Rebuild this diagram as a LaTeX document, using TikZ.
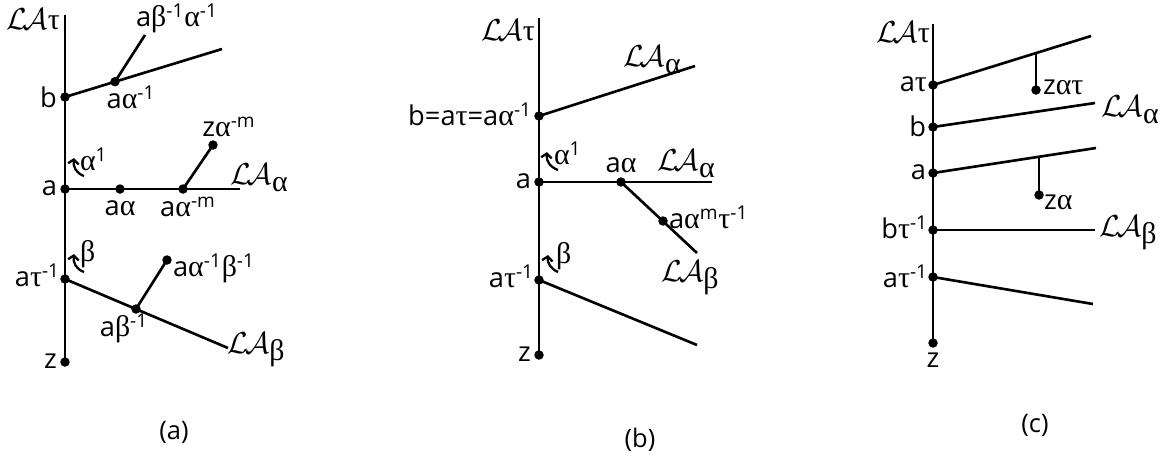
\documentclass[tikz,border=0pt]{standalone}
\usepackage{fontspec}
\setmainfont{Open Sans}
\newfontfamily\grk{Liberation Serif}
\usetikzlibrary{arrows.meta}
\newcommand{\ssp}[1]{\textsuperscript{#1}}
\newcommand{\Ga}{{\grk\fontsize{17}{18}\selectfont α}}
\newcommand{\Gb}{{\grk\fontsize{17}{18}\selectfont β}}
\newcommand{\Gt}{{\grk\fontsize{17}{18}\selectfont τ}}
\newcommand{\LAsub}[1]{$\mathcal{L}\mkern-2mu\mathcal{A}$\raisebox{-0.45ex}{#1}}
\newcommand{\LAtau}{$\mathcal{L}\mkern-2mu\mathcal{A}$\Gt}
\begin{document}
\begin{tikzpicture}[x=0.02cm,y=-0.02cm, line width=1.5pt,
  dot/.style={circle,fill,inner sep=0pt,minimum size=5.4pt},
  lbl/.style={inner sep=1pt,font=\fontsize{15.5}{17}\selectfont},
  la/.style={inner sep=1pt,font=\fontsize{17}{19}\selectfont},
  captionlbl/.style={inner sep=1pt,font=\fontsize{14.5}{16}\selectfont},
  turn/.style={line width=1.3pt,-{Straight Barb[length=2.5pt,width=6pt]}}]
\useasboundingbox (0,0) rectangle (1165,461);

% ---------------- panel (a)
\coordinate (aTop) at (65,15);
\node[dot] (ab) at (65,97) {};
\node[dot] (aa) at (65,189) {};
\node[dot] (at) at (65,279) {};
\node[dot] (az) at (65,362) {};
\draw (aTop) -- (az.center);
\node[la] (aLAt) at (33,19) {\LAtau};
% b line
\coordinate (abE) at (222,49);
\node[dot] (aai) at (115,81.7) {};
\coordinate (abai) at (145,35);
\draw (ab.center) -- (abE);
\draw (aai.center) -- (abai);
\node[lbl,anchor=east] (lb) at (60,97) {b};
\node[lbl] (laai) at (131,97) {a\Ga\ssp{-1}};
\node[lbl] (labai) at (177,18) {a\Gb\ssp{-1}\Ga\ssp{-1}};
% a line
\coordinate (aaE) at (240,189);
\node[dot] (aal) at (120,189) {};
\node[dot] (aam) at (183,189) {};
\node[dot] (azam) at (213,145) {};
\draw (aa.center) -- (aaE);
\draw (aam.center) -- (azam.center);
\node[lbl,anchor=east] (la) at (60,188) {a};
\node[lbl] (laal) at (120,208) {a\Ga};
\node[lbl] (laam) at (188,207) {a\Ga\ssp{-m}};
\node[lbl] (lzam) at (229,127) {z\Ga\ssp{-m}};
\node[la] (aLAa) at (259,178) {\LAsub{\Ga}};
\coordinate (aarT) at (84,176);
\coordinate (aarH) at (74,158);
\draw[turn] (aarT) .. controls (76,173) and (73,167) .. (aarH);
\node[lbl,anchor=west] (laarr) at (77,159) {\Ga\ssp{1}};
% a tau^-1 line
\coordinate (atE) at (228,348);
\node[dot] (abi) at (136,309) {};
\node[dot] (aabi) at (167,260) {};
\draw (at.center) -- (atE);
\draw (abi.center) -- (aabi.center);
\node[lbl,anchor=east] (lat) at (63,275) {a\Gt\ssp{-1}};
\node[lbl] (labi) at (124,328) {a\Gb\ssp{-1}};
\node[lbl,anchor=west] (laabi) at (170,268) {a\Ga\ssp{-1}\Gb\ssp{-1}};
\node[la] (aLAb) at (256,350) {\LAsub{\Gb}};
\coordinate (abrT) at (84,272);
\coordinate (abrH) at (74,254);
\draw[turn] (abrT) .. controls (76,269) and (73,263) .. (abrH);
\node[lbl,anchor=west] (lbarr) at (77,254) {\Gb};
\node[lbl,anchor=east] (lz) at (60,361) {z};
\node[captionlbl] (capa) at (174,432) {(a)};

% ---------------- panel (b)
\coordinate (bTop) at (539,18);
\node[dot] (bb) at (539,116) {};
\node[dot] (ba) at (539,182) {};
\node[dot] (bt) at (539,280) {};
\node[dot] (bz) at (539,355) {};
\draw (bTop) -- (bz.center);
\node[la] (bLAt) at (508,30) {\LAtau};
\coordinate (bbE) at (695,66);
\draw (bb.center) -- (bbE);
\node[lbl,anchor=east] (lbb) at (535,114) {b=a\Gt=a\Ga\ssp{-1}};
\node[la] (bLAa1) at (652,60) {\LAsub{\Ga}};
\coordinate (baE) at (712,182);
\node[dot] (bal) at (621,182) {};
\coordinate (bdE) at (697,253);
\node[dot] (bamt) at (663,221) {};
\draw (ba.center) -- (baE);
\draw (bal.center) -- (bdE);
\node[lbl,anchor=east] (lba) at (534,181) {a};
\node[lbl] (lbal) at (621,165) {a\Ga};
\node[la] (bLAa2) at (686,164) {\LAsub{\Ga}};
\node[lbl,anchor=west] (lbamt) at (666,217) {a\Ga\ssp{m}\Gt\ssp{-1}};
\node[la] (bLAb) at (690,278) {\LAsub{\Gb}};
\coordinate (barT) at (558,170);
\coordinate (barH) at (547,152);
\draw[turn] (barT) .. controls (550,167) and (546,161) .. (barH);
\node[lbl,anchor=west] (lbarr) at (551,153) {\Ga\ssp{1}};
\coordinate (btE) at (697,345);
\draw (bt.center) -- (btE);
\node[lbl,anchor=east] (lbt) at (537,276) {a\Gt\ssp{-1}};
\coordinate (bbrT) at (558,272);
\coordinate (bbrH) at (548,255);
\draw[turn] (bbrT) .. controls (551,269) and (547,263) .. (bbrH);
\node[lbl,anchor=west] (lbbrr) at (553,256) {\Gb};
\node[lbl,anchor=east] (lbz) at (534,354) {z};
\node[captionlbl] (capb) at (640,440) {(b)};

% ---------------- panel (c)
\coordinate (cTop) at (933,24);
\node[dot] (cat) at (933,85) {};
\node[dot] (cb) at (933,127) {};
\node[dot] (ca) at (933,173) {};
\node[dot] (cbt) at (933,230) {};
\node[dot] (catt) at (933,277) {};
\node[dot] (cz) at (933,343) {};
\draw (cTop) -- (cz.center);
\node[la] (cLAt) at (903,32) {\LAtau};
\coordinate (catE) at (1091,36);
\coordinate (catB) at (1036,53);
\node[dot] (czat) at (1036,90) {};
\draw (cat.center) -- (catE);
\draw (catB) -- (czat.center);
\node[lbl,anchor=east] (lcat) at (930,84) {a\Gt};
\node[lbl,anchor=west] (lczat) at (1040,87) {z\Ga\Gt};
\coordinate (cbE) at (1095,103);
\draw (cb.center) -- (cbE);
\node[lbl,anchor=east] (lcb) at (929,126) {b};
\node[la] (cLAa) at (1130,110) {\LAsub{\Ga}};
\coordinate (caE) at (1096,148);
\coordinate (caB) at (1039,157);
\node[dot] (cza) at (1039,195) {};
\draw (ca.center) -- (caE);
\draw (caB) -- (cza.center);
\node[lbl,anchor=east] (lca) at (929,172) {a};
\node[lbl,anchor=west] (lcza) at (1041,202) {z\Ga};
\coordinate (cbtE) at (1095,230);
\draw (cbt.center) -- (cbtE);
\node[lbl,anchor=east] (lcbt) at (931,227) {b\Gt\ssp{-1}};
\node[la] (cLAb) at (1128,233) {\LAsub{\Gb}};
\coordinate (cattE) at (1093,304);
\draw (catt.center) -- (cattE);
\node[lbl,anchor=east] (lcatt) at (931,276) {a\Gt\ssp{-1}};
\node[lbl] (lcz) at (933,360) {z};
\node[captionlbl] (capc) at (1035,425) {(c)};
\end{tikzpicture}
\end{document}
